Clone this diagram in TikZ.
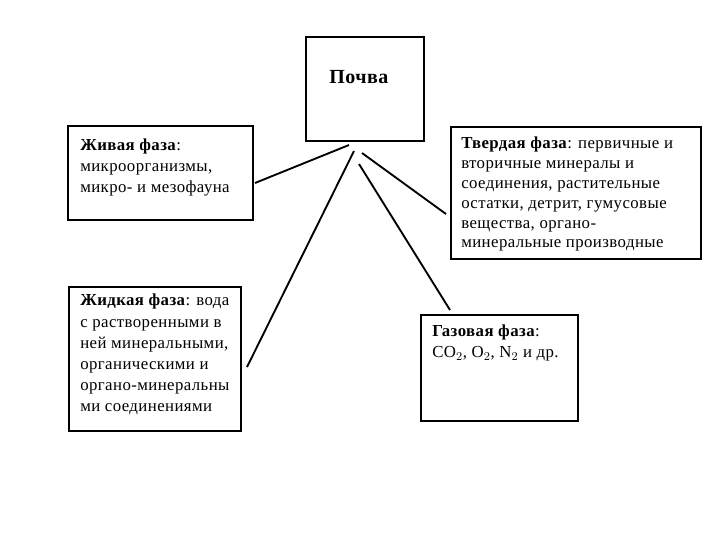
\documentclass[tikz,border=0pt]{standalone}
\usepackage{fontspec}
\setmainfont[LetterSpace=2.5]{Liberation Serif}
\begin{document}
\begin{tikzpicture}[x=0.75pt,y=-0.75pt,
  phasebox/.style={draw=black,line width=1pt},
  phasetext/.style={anchor=north west,inner sep=0pt,align=left,
    font=\fontsize{12.6}{15.5}\selectfont},
  tighttext/.style={phasetext,font=\fontsize{12.6}{14.85}\selectfont},
  loosetext/.style={phasetext,font=\fontsize{12.6}{15.9}\selectfont},
  link/.style={draw=black,line width=1.4pt}]
\useasboundingbox[fill=white] (0,0) rectangle (720,540);
% boxes
\draw[phasebox] (306,37) rectangle (424,141);
\node[anchor=base west,inner sep=0pt,font=\fontsize{15}{18}\selectfont\bfseries] (pochva) at (329,83) {Почва};
\draw[phasebox] (68,126) rectangle (253,220);
\node[phasetext] (live) at (80,139) {\textbf{Живая фаза}: \\ микроорганизмы, \\ микро- и мезофауна};
\draw[phasebox] (451,127) rectangle (701,259);
\node[tighttext] (solid) at (461,137) {\textbf{Твердая фаза}: первичные и \\ вторичные минералы и \\ соединения, растительные \\ остатки, детрит, гумусовые \\ вещества, органо- \\ минеральные производные};
\draw[phasebox] (69,287) rectangle (241,431);
\node[loosetext] (liquid) at (80,294) {\textbf{Жидкая фаза}: вода \\ с растворенными в \\ ней минеральными, \\ органическими и \\ органо-минеральны \\ ми соединениями};
\draw[phasebox] (421,315) rectangle (578,421);
\node[phasetext] (gas) at (432,325) {\textbf{Газовая фаза}: \\ CO$_2$, O$_2$, N$_2$ и др.};
% connectors
\coordinate (s1) at (349,145);
\coordinate (e1) at (255,183);
\coordinate (s2) at (362,153);
\coordinate (e2) at (446,214);
\coordinate (s3) at (354,151);
\coordinate (e3) at (247,367);
\coordinate (s4) at (359,164);
\coordinate (e4) at (450,310);
\draw[link] (s1) -- (e1);
\draw[link] (s2) -- (e2);
\draw[link] (s3) -- (e3);
\draw[link] (s4) -- (e4);
\end{tikzpicture}
\end{document}
